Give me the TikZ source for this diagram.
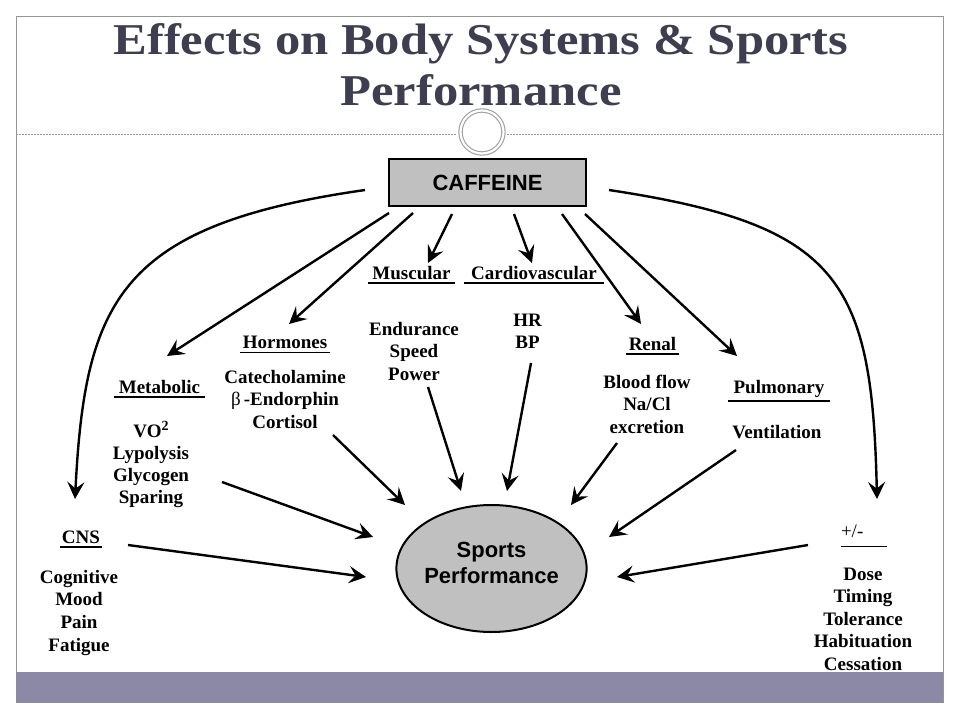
\documentclass[tikz,border=0pt]{standalone}
\usepackage{fontspec}
\setmainfont{Liberation Serif}
\newfontfamily\sansfont{Liberation Sans}
\usetikzlibrary{arrows.meta,shapes.geometric,calc}
\definecolor{titlecol}{RGB}{62,62,80}
\definecolor{boxgray}{RGB}{192,192,192}
\definecolor{bandcol}{RGB}{140,137,166}
\definecolor{framecol}{RGB}{150,150,150}
\begin{document}
\begin{tikzpicture}[x=1pt,y=-1pt,
  lbl/.style={font=\fontsize{19}{22.7}\selectfont\bfseries, align=center, inner sep=0pt, anchor=north},
  hdr/.style={font=\fontsize{19}{22.7}\selectfont\bfseries, anchor=base, text depth=0pt, inner xsep=0pt, inner ysep=4pt},
  uline/.style={line width=1.5pt},
  arr/.style={line width=2.4pt, -{Stealth[length=17pt,width=17pt,inset=6.5pt]}},
  framestyle/.style={framecol, line width=1pt},
]
\useasboundingbox (0,0) rectangle (960,720);
\fill[white] (0,0) rectangle (960,720);

% frame and title area
\draw[framestyle] (16,703) -- (16,16) -- (943,16) -- (943,703);
\node[font=\fontsize{44}{51}\selectfont\bfseries, text=titlecol, align=center, inner sep=0pt, anchor=north] (title) at (481,18.3)
  {\strut\scalebox{1.15}[1]{Effects on Body Systems \& Sports}\\\scalebox{1.15}[1]{Performance}};
\draw[framestyle, line width=0.8pt, dash pattern=on 2pt off 1pt] (16,134) -- (457,134);
\draw[framestyle, line width=0.8pt, dash pattern=on 2pt off 1pt] (507,134) -- (943,134);
\node[circle, minimum size=43pt, draw=gray!75, line width=1.1pt, double=white, double distance=2.2pt, fill=white] (ring) at (482,132) {};

% main nodes
\node[draw, line width=2pt, fill=boxgray, minimum width=197pt, minimum height=47pt, inner sep=0pt,
      font=\sansfont\bfseries\fontsize{22}{26}\selectfont] (caf) at (487.5,182.5) {CAFFEINE};
\node[ellipse, draw, line width=2pt, fill=boxgray, minimum width=189pt, minimum height=127pt, inner sep=0pt,
      align=center, font=\sansfont\bfseries\fontsize{22}{26}\selectfont] (sp) at (491.5,568.5)
      {Sports\\Performance\rule[-11pt]{0pt}{0pt}};

% headers
\node[hdr, minimum width=87pt]  (mus) at (411.5,279) {Muscular};
\node[hdr, minimum width=140pt] (car) at (534,279) {Cardiovascular};
\node[hdr, minimum width=90pt]  (hor) at (285,348.5) {Hormones};
\node[hdr, minimum width=91pt]  (met) at (159.5,393) {Metabolic};
\node[hdr, minimum width=42pt]  (cns) at (81,543) {CNS};
\node[hdr, minimum width=53pt, inner ysep=3.5pt]  (ren) at (652.5,350.5) {Renal};
\node[hdr, minimum width=102pt, inner ysep=8pt] (pul) at (779,393) {Pulmonary};
\node[hdr, text width=46pt, align=left, font=\fontsize{19}{22.7}\selectfont, inner ysep=9.5pt] (pm) at (864,537) {+/-};
\foreach \n in {mus,car,hor,met,cns,ren,pul,pm}
  \draw[uline] (\n.south west) -- (\n.south east);

% body texts
\node[lbl] (endu) at (414,335-16) {\strut Endurance\\Speed\\Power};
\node[lbl] (hrbp) at (527.5,326-16) {\strut HR\\BP};
\node[lbl] (cate) at (285,383-16) {\strut Catecholamine\\{\mdseries β}\,-Endorphin\\Cortisol};
\node[lbl, font=\fontsize{19}{22}\selectfont\bfseries] (vo) at (151,436-15.4)
  {\strut VO\raisebox{7pt}{\fontsize{14}{14}\selectfont 2}\\Lypolysis\\Glycogen\\Sparing};
\node[lbl] (cog) at (79,583-16) {\strut Cognitive\\Mood\\Pain\\Fatigue};
\node[lbl, font=\fontsize{19}{22.5}\selectfont\bfseries] (blood) at (647,388-15.8) {\strut Blood flow\\Na/Cl\\excretion};
\node[lbl] (vent) at (777,438-16) {\strut Ventilation};
\node[lbl, font=\fontsize{19}{22.5}\selectfont\bfseries] (dose) at (863,580-15.8) {\strut Dose\\Timing\\Tolerance\\Habituation\\Cessation};

% connector end points
\coordinate (s-cns) at (365,190);
\coordinate (s-met) at (389,213);
\coordinate (s-hor) at (413,213);
\coordinate (s-mus) at (452,214);
\coordinate (s-car) at (514,214);
\coordinate (s-ren) at (562,214);
\coordinate (s-pul) at (585,214);
\coordinate (s-pm)  at (609,190);
\coordinate (t-cns) at (75,499);
\coordinate (t-met) at (167,356);
\coordinate (t-hor) at (289,324);
\coordinate (t-mus) at (428,263);
\coordinate (t-car) at (532,263);
\coordinate (t-ren) at (641,324);
\coordinate (t-pul) at (737,356);
\coordinate (t-pm)  at (877,499);

% from CAFFEINE
\draw[arr] (s-cns) .. controls (120,225) and (85,300) .. (t-cns);
\draw[arr] (s-met) -- (t-met);
\draw[arr] (s-hor) -- (t-hor);
\draw[arr] (s-mus) -- (t-mus);
\draw[arr] (s-car) -- (t-car);
\draw[arr] (s-ren) -- (t-ren);
\draw[arr] (s-pul) -- (t-pul);
\draw[arr] (s-pm) .. controls (840,225) and (872,280) .. (t-pm);

% into Sports Performance
\coordinate (f-met) at (222,482);  \coordinate (e-met) at (373,537);
\coordinate (f-cns) at (128,545);  \coordinate (e-cns) at (366,577);
\coordinate (f-hor) at (333,435);  \coordinate (e-hor) at (405,505);
\coordinate (f-mus) at (428,387);  \coordinate (e-mus) at (461,491);
\coordinate (f-car) at (531,363);  \coordinate (e-car) at (507,491);
\coordinate (f-ren) at (617,443);  \coordinate (e-ren) at (571,505);
\coordinate (f-pul) at (736,450);  \coordinate (e-pul) at (609,537);
\coordinate (f-pm)  at (808,545);  \coordinate (e-pm)  at (617,577);
\foreach \n in {met,cns,hor,mus,car,ren,pul,pm}
  \draw[arr] (f-\n) -- (e-\n);

% bottom band
\fill[bandcol] (16,672) rectangle (943,703);
\end{tikzpicture}
\end{document}
